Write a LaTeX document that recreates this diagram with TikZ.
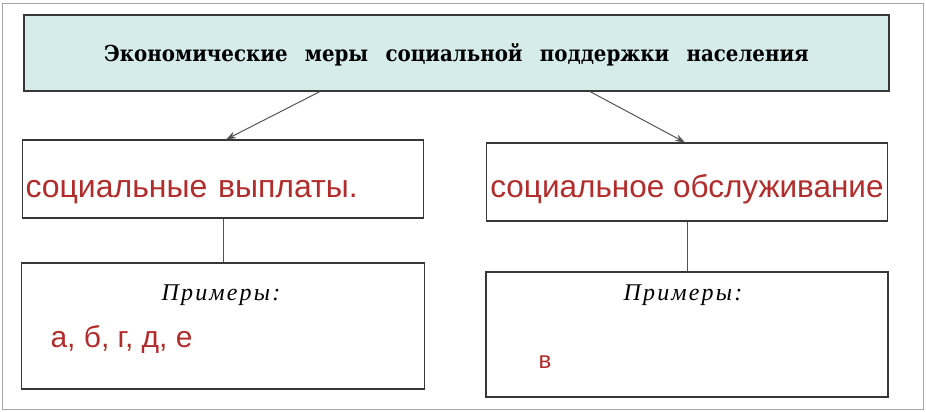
\documentclass[tikz,border=0pt]{standalone}
\usepackage{fontspec}
\setmainfont{Liberation Serif}
\setsansfont{Liberation Sans}
\newfontfamily\headfont[WordSpace=2.5]{DejaVu Serif Condensed}
\newfontfamily\examplefont[LetterSpace=9]{Liberation Serif}
\usetikzlibrary{arrows.meta,positioning}
\definecolor{boxline}{RGB}{55,55,55}
\definecolor{headfill}{RGB}{214,236,234}
\definecolor{answer}{RGB}{178,44,44}

\begin{document}
\begin{tikzpicture}[x=1pt, y=-1pt,
  box/.style={draw=boxline, line width=1.1pt, inner sep=0pt},
  answertext/.style={text=answer, font=\sffamily\fontsize{#1}{#1}\selectfont},
  answertext/.default=32,
  examplehead/.style={font=\examplefont\itshape\fontsize{24}{26}\selectfont},
  link/.style={draw=boxline!85, line width=1pt},
  arrow/.style={link, -{Stealth[length=10pt, width=7pt]}}]

\useasboundingbox (0,0) rectangle (926,412);
\draw[gray!70, line width=0.8pt] (2,3) rectangle (923,409);

\node[box, fill=headfill, minimum width=865pt, minimum height=76pt, text depth=0pt,
  font=\headfont\bfseries\fontsize{22}{24}\selectfont] (title) at (456.5,53)
  {Экономические меры социальной поддержки населения};

\node[box, answertext, minimum width=401pt, minimum height=78pt,
  text width=395pt, align=left, text height=36pt, text depth=0pt] (payout) at (223,179)
  {социальные выплаты.};
\node[box, answertext=31.5, minimum width=401pt, minimum height=78pt,
  text height=30pt, text depth=0pt] (service) at (687,182)
  {социальное обслуживание};

\node[box, minimum width=403pt, minimum height=126pt] (payoutex) at (223,326) {};
\node[examplehead] (payouthead) at (221,295) {Примеры:};
\node[answertext=30, anchor=base west] (payoutlist) at (47,347) {а, б, г, д, е};

\node[box, minimum width=402pt, minimum height=125pt] (serviceex) at (687,334.5) {};
\node[examplehead] (servicehead) at (683,295) {Примеры:};
\node[answertext=24, anchor=base] (servicelist) at (545,368) {в};

\draw[arrow] ([xshift=-136.5pt]title.south) -- ([xshift=3pt]payout.north);
\draw[arrow] ([xshift=133.5pt]title.south) -- ([xshift=-2pt]service.north);
\draw[link] (payout.south) -- (payoutex.north);
\draw[link] (service.south) -- (serviceex.north);
\end{tikzpicture}
\end{document}
